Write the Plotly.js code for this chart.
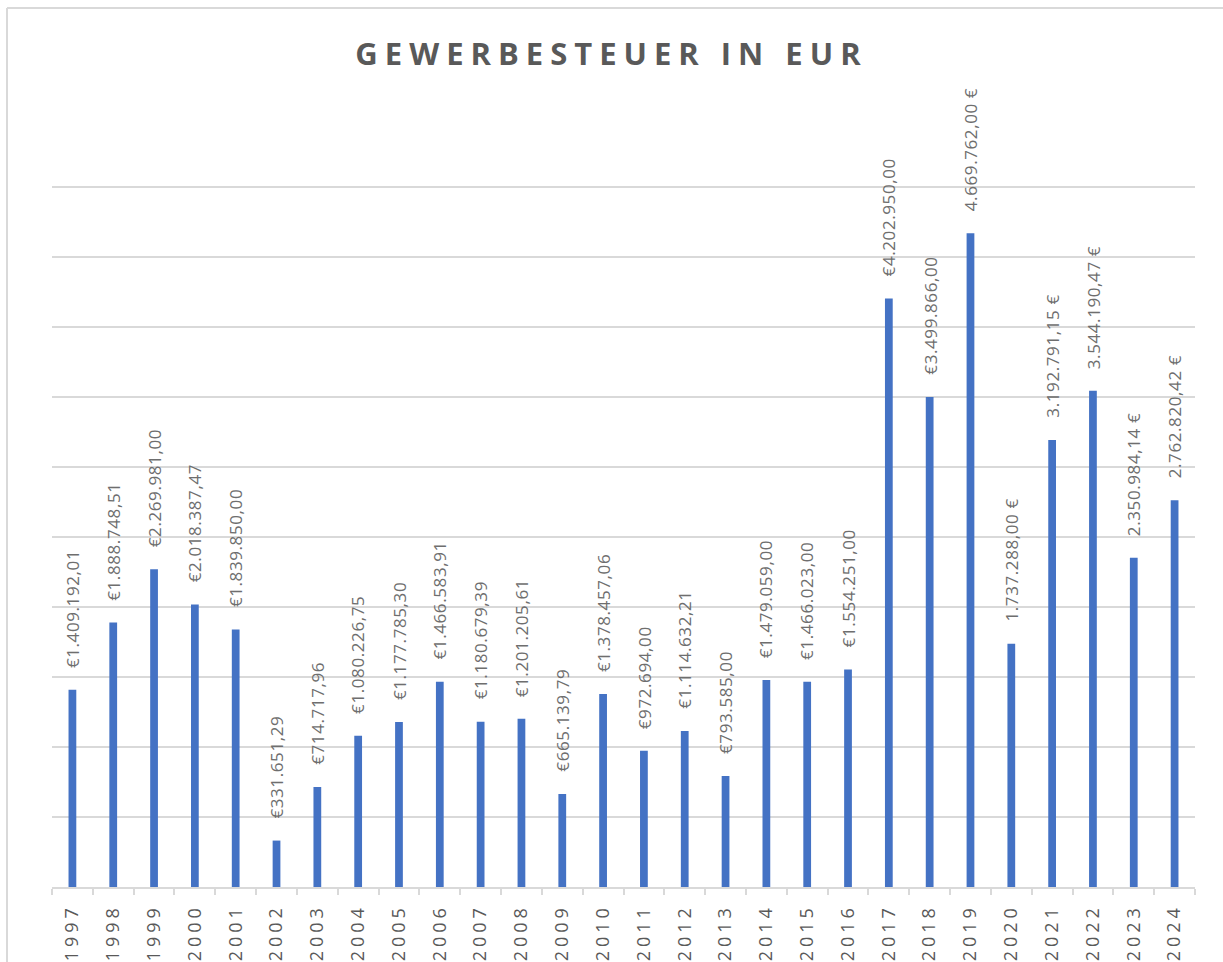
<!DOCTYPE html>
<html>
<head>
<meta charset="utf-8">
<script src="https://cdn.plot.ly/plotly-3.0.1.min.js"></script>
<style>
  html, body { margin: 0; padding: 0; background: #ffffff; }
  #chart { width: 1223px; height: 962px; }
  .gtitle { letter-spacing: 7px; }
  .xtick text { letter-spacing: 4px; }
  .annotation-text { letter-spacing: 0.6px; }
</style>
</head>
<body>
<div id="chart"></div>
<script>
const years = ["1997","1998","1999","2000","2001","2002","2003","2004","2005","2006","2007","2008","2009","2010","2011","2012","2013","2014","2015","2016","2017","2018","2019","2020","2021","2022","2023","2024"];
const values = [1409192.01, 1888748.51, 2269981.00, 2018387.47, 1839850.00, 331651.29, 714717.96, 1080226.75, 1177785.30, 1466583.91, 1180679.39, 1201205.61, 665139.79, 1378457.06, 972694.00, 1114632.21, 793585.00, 1479059.00, 1466023.00, 1554251.00, 4202950.00, 3499866.00, 4669762.00, 1737288.00, 3192791.15, 3544190.47, 2350984.14, 2762820.42];
const labels = ["€1.409.192,01","€1.888.748,51","€2.269.981,00","€2.018.387,47","€1.839.850,00","€331.651,29","€714.717,96","€1.080.226,75","€1.177.785,30","€1.466.583,91","€1.180.679,39","€1.201.205,61","€665.139,79","€1.378.457,06","€972.694,00","€1.114.632,21","€793.585,00","€1.479.059,00","€1.466.023,00","€1.554.251,00","€4.202.950,00","€3.499.866,00","4.669.762,00 €","1.737.288,00 €","3.192.791,15 €","3.544.190,47 €","2.350.984,14 €","2.762.820,42 €"];
const chartTitle = "GEWERBESTEUER IN EUR";

const W = 1223, H = 962;
const mL = 52, mR = 28, mT = 183, mB = 75;
const pw = W - mL - mR, ph = H - mT - mB;
const yMax = 5000000 * ph / 700;
const px = v => (v - mL) / pw;
const py = v => (H - mB - v) / ph;

const trace = {
  type: "bar",
  x: years,
  y: values,
  marker: { color: "#4472C4" },
  hoverinfo: "x+y"
};

const annotations = years.map((yr, i) => ({
  x: i,
  y: values[i],
  xref: "x",
  yref: "y",
  text: labels[i],
  showarrow: false,
  textangle: -90,
  xanchor: "center",
  yanchor: "bottom",
  yshift: 20,
  font: { family: "Open Sans, sans-serif", size: 17, color: "#6e6e6e" }
}));

const layout = {
  width: W,
  height: H,
  margin: { l: mL, r: mR, t: mT, b: mB, pad: 0 },
  paper_bgcolor: "#ffffff",
  plot_bgcolor: "#ffffff",
  showlegend: false,
  bargap: 0.81,
  title: {
    text: chartTitle,
    x: 0.5,
    xref: "container",
    xanchor: "center",
    y: 1 - 54 / H,
    yref: "container",
    yanchor: "middle",
    font: { family: "Open Sans, sans-serif", size: 31, color: "#595959", weight: 700 }
  },
  xaxis: {
    type: "category",
    range: [-0.5, years.length - 0.5],
    showgrid: false,
    showline: true,
    linecolor: "#d9d9d9",
    linewidth: 2,
    ticks: "outside",
    tickson: "boundaries",
    ticklen: 6,
    tickwidth: 2,
    tickcolor: "#d9d9d9",
    tickangle: -90,
    ticklabelstandoff: 8,
    tickfont: { family: "Open Sans, sans-serif", size: 18, color: "#595959" },
    fixedrange: true
  },
  yaxis: {
    range: [0, yMax],
    tick0: 0,
    dtick: 500000,
    showgrid: true,
    gridcolor: "#d9d9d9",
    gridwidth: 1.5,
    showticklabels: false,
    zeroline: false,
    showline: false,
    fixedrange: true
  },
  annotations: annotations,
  shapes: [
    { type: "line", xref: "paper", yref: "paper", x0: px(7), x1: px(1223), y0: py(8), y1: py(8), line: { color: "#d9d9d9", width: 2 } },
    { type: "line", xref: "paper", yref: "paper", x0: px(7), x1: px(7), y0: py(8), y1: py(962), line: { color: "#d9d9d9", width: 2 } }
  ]
};

Plotly.newPlot("chart", [trace], layout, { displayModeBar: false, staticPlot: true });
</script>
</body>
</html>
